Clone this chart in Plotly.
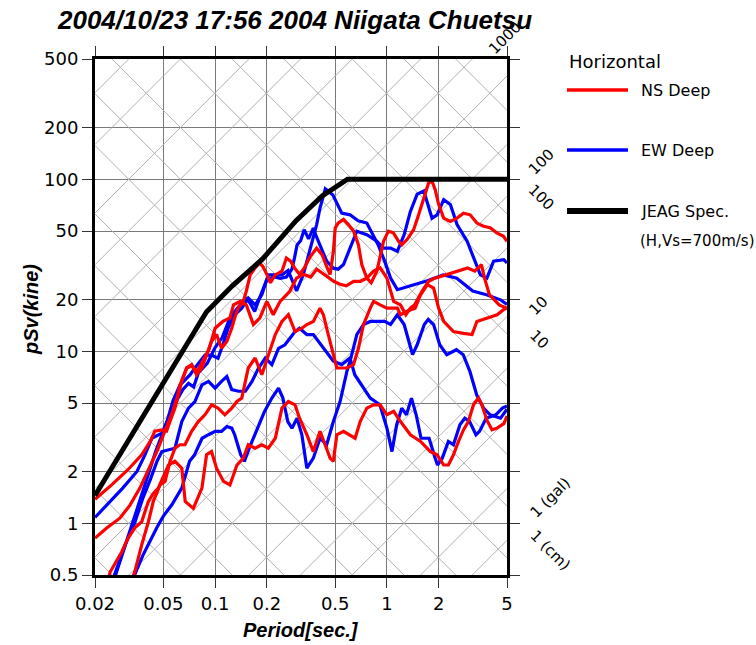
import numpy as np
import plotly.graph_objects as go

# ---------------- data ----------------
x_ticks = [0.02, 0.05, 0.1, 0.2, 0.5, 1, 2, 5]
x_tick_text = ["0.02", "0.05", "0.1", "0.2", "0.5", "1", "2", "5"]
y_ticks = [0.5, 1, 2, 5, 10, 20, 50, 100, 200, 500]
y_tick_text = ["0.5", "1", "2", "5", "10", "20", "50", "100", "200", "500"]

jeag_T = [0.02, 0.089, 0.126, 0.189, 0.296, 0.42, 0.59, 5.0]
jeag_sv = [1.45, 16.9, 24.0, 34.4, 57.4, 80.0, 100.0, 100.0]

ns1_T = [0.02, 0.025, 0.031, 0.0374, 0.042, 0.0446, 0.049, 0.0522, 0.0547, 0.0584, 0.064, 0.0684, 0.073, 0.078, 0.0838, 0.0893, 0.0953, 0.102, 0.109, 0.117, 0.125, 0.13, 0.136, 0.146, 0.152, 0.16, 0.171, 0.182, 0.19, 0.2, 0.21, 0.224, 0.245, 0.26, 0.275, 0.29, 0.31, 0.33, 0.355, 0.39, 0.42, 0.45, 0.467, 0.488, 0.5, 0.52, 0.559, 0.597, 0.64, 0.683, 0.714, 0.764, 0.81, 0.874, 0.956, 1.02, 1.09, 1.17, 1.22, 1.31, 1.43, 1.53, 1.64, 1.75, 1.83, 1.91, 2.0, 2.14, 2.34, 2.56, 2.79, 3.05, 3.34, 3.65, 3.99, 4.36, 4.77, 5.0]
ns1_sv = [1.38, 1.67, 2.04, 2.5, 3.0, 3.43, 3.49, 3.43, 3.92, 4.67, 6.7, 8.0, 8.36, 7.3, 8.0, 9.55, 11.4, 12.5, 10.4, 11.4, 13.6, 15.6, 17.8, 19.5, 22.4, 27.8, 30.5, 32.6, 31, 28, 25, 27.8, 29.2, 34.8, 33.4, 30.5, 28, 30.4, 35, 39.8, 36.3, 30.4, 27.9, 38, 52, 55.6, 58.4, 54.5, 49.9, 41.5, 31.9, 26.6, 25, 29.2, 43.6, 49.9, 48.8, 43.6, 41.5, 44.6, 50.9, 62.1, 78.2, 95.4, 97.6, 86.9, 71.4, 59.4, 56.8, 59.4, 63.5, 62.1, 55.6, 53.3, 52.2, 48.8, 46.6, 43.6]

ns2_T = [0.02, 0.0235, 0.0279, 0.0319, 0.0365, 0.0405, 0.0459, 0.051, 0.0562, 0.06, 0.0624, 0.0684, 0.0734, 0.0785, 0.085, 0.092, 0.1, 0.111, 0.122, 0.128, 0.14, 0.152, 0.167, 0.182, 0.2, 0.218, 0.239, 0.272, 0.298, 0.326, 0.36, 0.39, 0.42, 0.45, 0.49, 0.534, 0.58, 0.64, 0.7, 0.764, 0.836, 0.914, 1.0, 1.095, 1.2, 1.29, 1.37, 1.45, 1.6, 1.75, 1.9, 2.2, 2.55, 2.95, 3.25, 3.55, 3.7, 3.95, 4.5, 5.0]
ns2_sv = [0.82, 0.94, 1.07, 1.27, 1.6, 2.0, 2.62, 3.43, 4.37, 5.34, 6.35, 8.0, 8.2, 7.6, 8.8, 10.2, 13.6, 14.9, 15.6, 18.6, 19.5, 18.6, 14.3, 15.6, 19.5, 16.3, 19.5, 22.3, 26.6, 28, 27, 30, 28.5, 27, 25.5, 24.5, 24, 25.5, 25.5, 26.6, 29.2, 30.5, 26.6, 19.5, 18.6, 16.3, 17.8, 18.6, 22.3, 25.5, 26.6, 27.8, 29.2, 30.5, 29.2, 31.9, 26.6, 21.3, 18.6, 17.8]

ns3_T = [0.0315, 0.0341, 0.0374, 0.0409, 0.0437, 0.0478, 0.0511, 0.0547, 0.0584, 0.0624, 0.0668, 0.073, 0.0798, 0.0873, 0.0954, 0.104, 0.114, 0.125, 0.134, 0.143, 0.156, 0.171, 0.187, 0.204, 0.224, 0.245, 0.267, 0.292, 0.32, 0.342, 0.373, 0.408, 0.427, 0.446, 0.488, 0.511, 0.585, 0.639, 0.683, 0.731, 0.8, 0.836, 0.914, 1.0, 1.15, 1.2, 1.31, 1.46, 1.57, 1.72, 1.87, 2.0, 2.14, 2.44, 2.79, 3.13, 3.34, 3.82, 4.38, 4.79, 5.0]
ns3_sv = [0.42, 0.523, 0.748, 1.02, 1.34, 1.67, 1.75, 2.29, 2.73, 2.86, 2.86, 3.42, 3.9, 4.27, 4.88, 4.67, 4.27, 4.67, 5.1, 5.34, 7.99, 9.13, 7.3, 9.55, 12.5, 14.9, 16.3, 13.0, 13.6, 14.3, 14.9, 17.8, 16.3, 13.6, 9.55, 7.99, 7.99, 8.36, 10.4, 14.3, 17.8, 19.5, 18.6, 17.8, 17.8, 16.3, 17.1, 17.8, 21.3, 24.4, 23.3, 17.8, 14.9, 13.0, 12.7, 12.5, 14.9, 15.6, 16.3, 17.5, 17.8]

ns4_T = [0.0235, 0.0245, 0.0286, 0.0312, 0.0341, 0.0374, 0.0409, 0.0437, 0.0467, 0.05, 0.0535, 0.0584, 0.064, 0.067, 0.0747, 0.0838, 0.0892, 0.0953, 0.102, 0.112, 0.122, 0.134, 0.146, 0.156, 0.171, 0.187, 0.204, 0.224, 0.245, 0.267, 0.292, 0.31, 0.342, 0.373, 0.408, 0.437, 0.467, 0.488, 0.511, 0.559, 0.61, 0.653, 0.699, 0.764, 0.836, 0.914, 1.0, 1.095, 1.2, 1.37, 1.57, 1.79, 1.96, 2.14, 2.28, 2.44, 2.61, 2.79, 2.98, 3.19, 3.41, 3.57, 3.82, 4.09, 4.38, 4.79, 5.0]
ns4_sv = [0.45, 0.52, 0.68, 0.82, 0.94, 1.02, 1.34, 1.49, 1.6, 1.87, 2.18, 2.29, 2.09, 1.34, 1.22, 1.6, 2.5, 2.61, 2.09, 1.75, 1.67, 2.18, 2.39, 2.86, 2.73, 2.86, 2.73, 3.12, 4.67, 5.1, 4.88, 4.08, 3.27, 2.61, 3.42, 2.86, 2.39, 2.29, 3.27, 3.42, 3.27, 3.12, 3.9, 4.67, 4.88, 4.88, 4.27, 4.47, 3.9, 3.27, 2.99, 2.61, 2.5, 2.18, 2.18, 2.5, 2.99, 3.49, 3.9, 4.88, 5.34, 4.88, 3.97, 3.49, 3.57, 3.79, 4.2]

ew1_T = [0.02, 0.0245, 0.029, 0.0351, 0.039, 0.0429, 0.0459, 0.049, 0.0526, 0.0568, 0.0624, 0.0716, 0.0763, 0.0817, 0.0873, 0.0954, 0.104, 0.111, 0.119, 0.13, 0.143, 0.156, 0.171, 0.187, 0.204, 0.224, 0.245, 0.266, 0.285, 0.298, 0.326, 0.355, 0.39, 0.408, 0.438, 0.485, 0.546, 0.61, 0.68, 0.764, 0.89, 0.97, 1.05, 1.15, 1.37, 1.72, 2.13, 2.55, 3.16, 3.8, 4.58, 5.0]
ew1_sv = [1.08, 1.34, 1.6, 2.0, 2.49, 3.12, 3.25, 3.34, 3.92, 5.13, 6.35, 7.3, 8.0, 8.8, 9.5, 9.5, 9.1, 10.9, 13.6, 16.3, 17.8, 20.4, 18.6, 21.3, 27.8, 27.8, 27.8, 29.5, 25, 22.4, 27.8, 38, 54.5, 68, 88, 81, 63.5, 62.1, 57.4, 55.6, 41.5, 33.4, 26.6, 22.8, 24, 25.7, 27.8, 26.6, 22.4, 21.3, 19.9, 18.7]

ew2_T = [0.026, 0.028, 0.03, 0.033, 0.036, 0.04, 0.045, 0.05, 0.055, 0.06, 0.065, 0.07, 0.075, 0.08, 0.09, 0.1, 0.11, 0.12, 0.13, 0.14, 0.15, 0.16, 0.17, 0.18, 0.19, 0.2, 0.22, 0.24, 0.26, 0.28, 0.29, 0.3, 0.315, 0.33, 0.35, 0.373, 0.39, 0.408, 0.446, 0.488, 0.52, 0.559, 0.61, 0.668, 0.764, 0.874, 0.956, 1.05, 1.15, 1.26, 1.37, 1.5, 1.64, 1.83, 1.96, 2.14, 2.34, 2.56, 2.93, 3.2, 3.5, 3.82, 4.18, 4.79, 5.0]
ew2_sv = [0.48, 0.6, 0.75, 1.0, 1.3, 1.8, 2.6, 3.4, 4.4, 5.2, 6.0, 6.5, 6.2, 7.5, 8.5, 10.5, 12, 15, 17, 18.6, 20.4, 19, 17, 20, 23, 26, 27, 26.5, 27, 30, 35, 41.5, 44, 50.9, 45, 52, 46, 41.5, 33.4, 30.4, 30, 31.9, 39.8, 49.9, 47.6, 43.6, 39.8, 39.8, 38.1, 47.6, 65, 81.8, 85.5, 59.4, 62.1, 76.1, 71.4, 54.5, 43.6, 34.8, 27.8, 26.6, 33.4, 34.1, 32.6]

ew3_T = [0.025, 0.026, 0.03, 0.034, 0.038, 0.042, 0.046, 0.049, 0.0584, 0.064, 0.07, 0.0763, 0.0838, 0.0915, 0.1, 0.109, 0.117, 0.125, 0.137, 0.15, 0.164, 0.179, 0.196, 0.214, 0.234, 0.255, 0.292, 0.31, 0.342, 0.373, 0.427, 0.488, 0.546, 0.61, 0.65, 0.73, 0.8, 0.91, 1.0, 1.07, 1.14, 1.22, 1.3, 1.39, 1.48, 1.58, 1.76, 1.91, 1.97, 2.1, 2.28, 2.44, 2.66, 2.84, 3.03, 3.3, 3.46, 3.78, 4.11, 4.3, 4.7, 5.0]
ew3_sv = [0.45, 0.5, 0.75, 1.0, 1.4, 1.8, 2.3, 2.61, 2.73, 3.9, 4.67, 5.1, 6.38, 6.68, 6.1, 6.68, 7.13, 5.98, 5.85, 5.85, 6.68, 7.99, 9.13, 8.36, 10.4, 10.9, 13.0, 13.6, 12.5, 12.5, 10.4, 8.74, 8.36, 9.13, 7.3, 6.1, 5.34, 4.88, 3.57, 2.61, 3.74, 4.67, 4.27, 5.34, 4.27, 3.12, 3.12, 2.39, 2.18, 2.39, 2.99, 2.86, 3.74, 4.08, 3.9, 3.27, 3.42, 4.08, 4.18, 4.27, 4.67, 4.8]

ew4_T = [0.033, 0.034, 0.038, 0.042, 0.046, 0.05, 0.056, 0.064, 0.071, 0.076, 0.084, 0.0915, 0.1, 0.109, 0.117, 0.125, 0.13, 0.141, 0.148, 0.158, 0.17, 0.194, 0.214, 0.234, 0.248, 0.265, 0.28, 0.3, 0.32, 0.342, 0.373, 0.408, 0.446, 0.488, 0.534, 0.585, 0.61, 0.668, 0.731, 0.8, 0.874, 0.97, 1.05, 1.15, 1.26, 1.41, 1.5, 1.65, 1.74, 1.87, 2.03, 2.23, 2.54, 2.78, 3.04, 3.33, 3.65, 3.99, 4.58, 5.0]
ew4_sv = [0.45, 0.5, 0.65, 0.8, 0.95, 1.1, 1.28, 1.6, 2.29, 2.5, 3.12, 3.27, 3.42, 3.42, 3.65, 3.57, 3.27, 2.5, 2.29, 2.73, 3.27, 4.47, 5.34, 6.1, 5.34, 3.9, 3.57, 4.08, 3.27, 2.09, 2.39, 3.12, 2.86, 3.9, 5.1, 7.64, 8.74, 12.5, 14.3, 14.9, 14.9, 14.9, 14.3, 16.3, 14.3, 9.55, 10.9, 14.3, 15.3, 14.3, 10.9, 9.55, 10.2, 9.55, 7.64, 5.58, 4.67, 4.27, 4.08, 4.6]

grid_steps = [1, 2, 5]

# ---------------- figure ----------------
fig = go.Figure()

T_MIN, T_MAX = 0.02, 5.0
TWO_PI = 2 * np.pi

# diagonal grid (constant acceleration / displacement)
acc_x, acc_y, dis_x, dis_y = [], [], [], []
for e in range(-3, 7):
    for m in grid_steps:
        v = m * 10.0 ** e
        acc_x += [T_MIN, T_MAX, None]
        acc_y += [v * T_MIN / TWO_PI, v * T_MAX / TWO_PI, None]
        dis_x += [T_MIN, T_MAX, None]
        dis_y += [TWO_PI * v / T_MIN, TWO_PI * v / T_MAX, None]
for xx, yy in ((acc_x, acc_y), (dis_x, dis_y)):
    fig.add_trace(go.Scatter(x=xx, y=yy, mode="lines", line=dict(color="#b0b0b0", width=1),
                             hoverinfo="skip", showlegend=False))

blue_curves = [(ew1_T, ew1_sv), (ew2_T, ew2_sv), (ew3_T, ew3_sv), (ew4_T, ew4_sv)]
red_curves = [(ns1_T, ns1_sv), (ns2_T, ns2_sv), (ns3_T, ns3_sv), (ns4_T, ns4_sv)]
for t, s in blue_curves:
    fig.add_trace(go.Scatter(x=t, y=s, mode="lines", line=dict(color="#0000ff", width=3.2),
                             showlegend=False))
for t, s in red_curves:
    fig.add_trace(go.Scatter(x=t, y=s, mode="lines", line=dict(color="#ff0000", width=3.2),
                             showlegend=False))

fig.add_trace(go.Scatter(x=jeag_T, y=jeag_sv, mode="lines", line=dict(color="black", width=5),
                         showlegend=False))

tick_font = dict(family="DejaVu Sans", size=18, color="black")
axis_common = dict(type="log", tickfont=tick_font, automargin=False,
                   showgrid=True, gridcolor="#7a7a7a", gridwidth=1,
                   showline=True, linecolor="black", linewidth=3, mirror="allticks",
                   ticks="outside", ticklen=10, tickcolor="#333", zeroline=False)
fig.update_xaxes(range=[np.log10(T_MIN), np.log10(T_MAX)],
                 tickvals=x_ticks, ticktext=x_tick_text, **axis_common)
fig.update_yaxes(range=[np.log10(0.5), np.log10(500)],
                 tickvals=y_ticks, ticktext=y_tick_text, **axis_common)

# legend drawn in paper coordinates
legend_items = [("NS Deep", "#ff0000", 3.5, 90), ("EW Deep", "#0000ff", 3.5, 150), ("JEAG Spec.", "black", 6, 211)]
W, H = 756, 645
L, R, Tm, B = 95, 249, 59, 70
pw, ph = W - L - R, H - Tm - B

def px(x):
    return (x - L) / pw

def py(y):
    return 1 - (y - Tm) / ph

annotations = []
shapes = []

# axis titles
annotations.append(dict(x=px(301), y=py(630), xref="paper", yref="paper",
                        text="<b><i>Period[sec.]</i></b>", showarrow=False,
                        xanchor="center", yanchor="middle",
                        font=dict(family="Liberation Sans", size=20, color="black")))
annotations.append(dict(x=px(31), y=py(310), xref="paper", yref="paper",
                        text="<b><i>pSv(kine)</i></b>", showarrow=False, textangle=-90,
                        xanchor="center", yanchor="middle",
                        font=dict(family="Liberation Sans", size=20, color="black")))

annotations.append(dict(x=px(567), y=py(61), xref="paper", yref="paper", text="Horizontal",
                        showarrow=False, xanchor="left", yanchor="middle",
                        font=dict(family="DejaVu Sans", size=18, color="black")))
for name, col, w, yy in legend_items:
    shapes.append(dict(type="line", xref="paper", yref="paper", x0=px(567), x1=px(628),
                       y0=py(yy), y1=py(yy), line=dict(color=col, width=w)))
    annotations.append(dict(x=px(639), y=py(yy), xref="paper", yref="paper", text=name,
                            showarrow=False, xanchor="left", yanchor="middle",
                            font=dict(family="DejaVu Sans", size=16, color="black")))
annotations.append(dict(x=px(638), y=py(241), xref="paper", yref="paper", text="(H,Vs=700m/s)",
                        showarrow=False, xanchor="left", yanchor="middle",
                        font=dict(family="DejaVu Sans", size=15, color="black")))

side_labels = [("1000", 505, 38, -45), ("100", 541, 162, -45), ("100", 541, 197, 45),
               ("10", 538, 306, -45), ("10", 539, 339, 45),
               ("1 (gal)", 550, 498, -45), ("1 (cm)", 550, 550, 45)]
for txt, xx, yy, ang in side_labels:
    annotations.append(dict(x=px(xx), y=py(yy), xref="paper", yref="paper", text=txt,
                            showarrow=False, textangle=ang, xanchor="center", yanchor="middle",
                            font=dict(family="DejaVu Sans", size=15, color="black")))

fig.update_layout(
    width=W, height=H, autosize=False,
    margin=dict(l=L, r=R, t=Tm, b=B),
    plot_bgcolor="white", paper_bgcolor="white",
    title=dict(text="<b><i>2004/10/23 17:56 2004 Niigata Chuetsu</i></b>",
               font=dict(family="Liberation Sans", size=26, color="black"),
               x=(62 + 528) / 2 / W, xanchor="center", y=1 - 20 / H, yanchor="middle"),
    annotations=annotations, shapes=shapes, showlegend=False,
)

fig.write_html("out.html")
